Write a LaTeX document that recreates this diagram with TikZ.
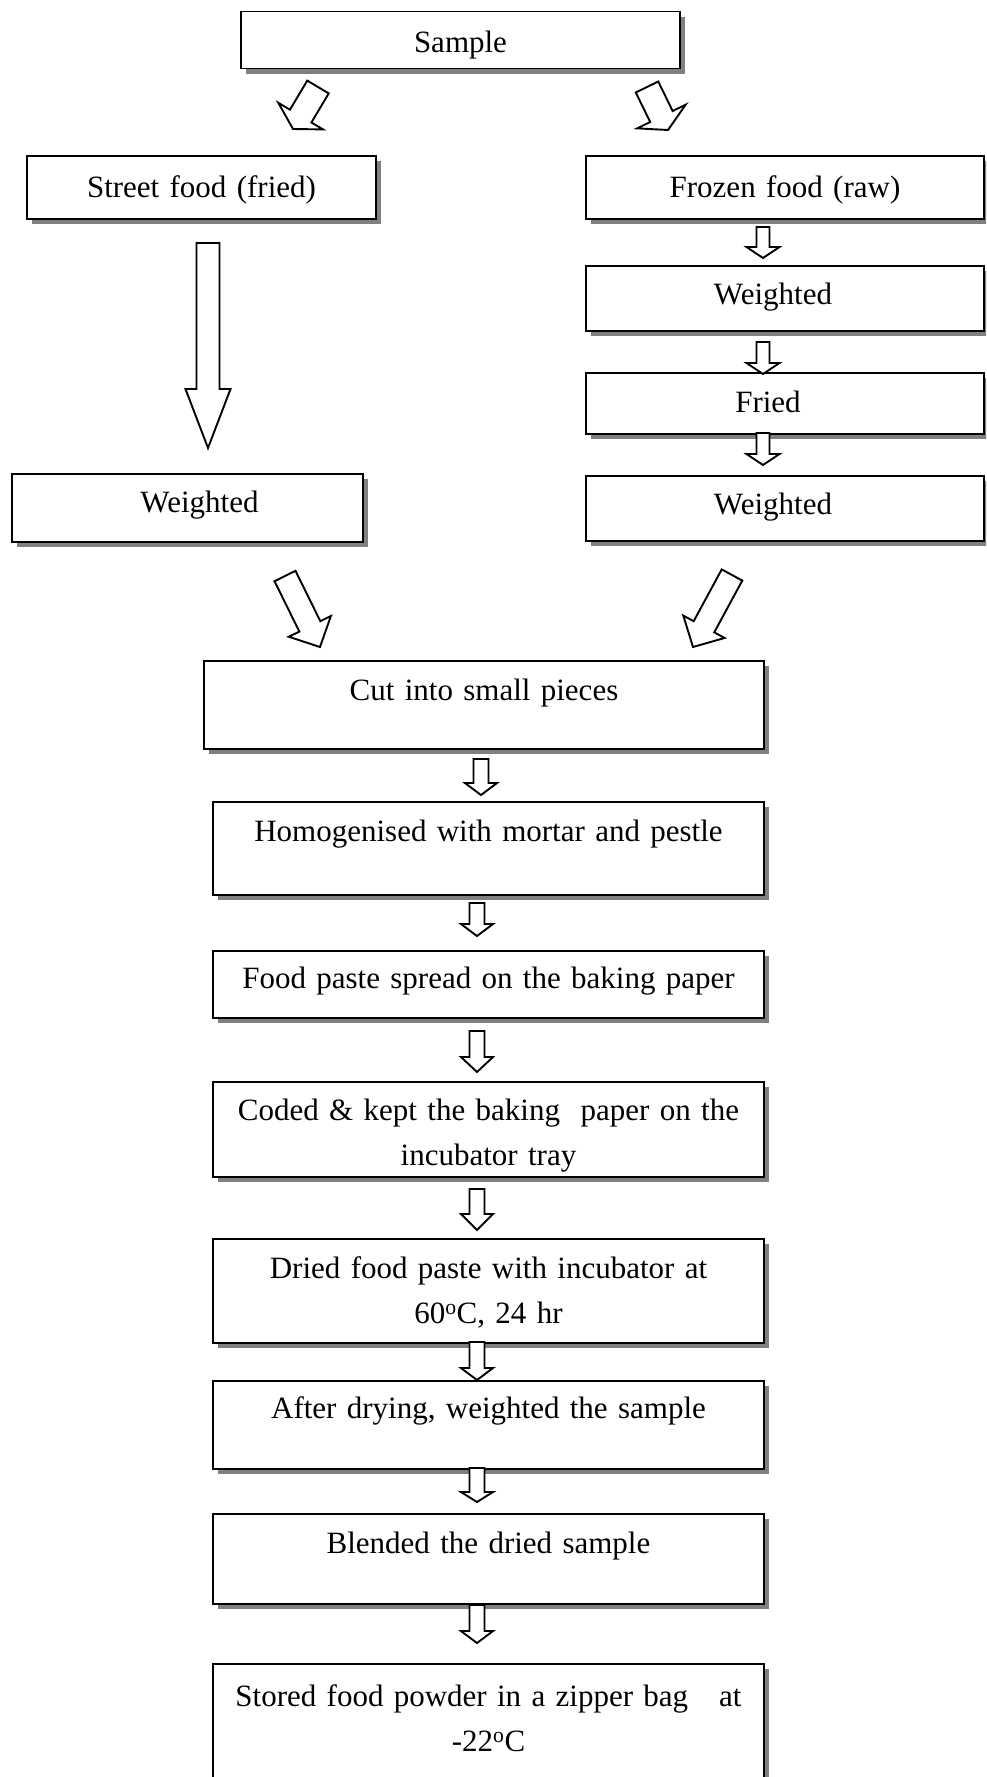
\documentclass[tikz,border=0pt]{standalone}
\usepackage{fontspec}
\setmainfont{Liberation Serif}
\usetikzlibrary{calc,shadows}
\definecolor{shadow-gray}{gray}{0.5}
\newcommand*\flowfont{\fontsize{31}{45}\selectfont}
% hollow block arrow: tail, tip, half shaft, half head, head length
\newcommand*\hollowarrow[5]{%
  \coordinate (hb) at ($(#2)!#5!(#1)$);
  \draw[outline] ($(#1)!#3!90:(#2)$) -- ($(hb)!#3!90:(#2)$) -- ($(hb)!#4!90:(#2)$) -- (#2)
    -- ($(hb)!#4!-90:(#2)$) -- ($(hb)!#3!-90:(#2)$) -- ($(#1)!#3!-90:(#2)$) -- cycle;}

\begin{document}
\begin{tikzpicture}[x=1pt,y=-1pt,
    box/.style={draw,line width=1.5pt,fill=white,inner sep=0pt,anchor=north,align=center,font=\flowfont,
      drop shadow={shadow xshift=5pt,shadow yshift=-5pt,fill=shadow-gray,opacity=1}},
    outline/.style={draw,line width=1.9pt,fill=white,line join=miter}]
\useasboundingbox (0,0) rectangle (986,1777);
\clip (0,0) rectangle (986,1777);

% top row
\node[box,text width=439pt,text height=41pt,text depth=16pt] (sample) at (460.5,11) {Sample};
\node[box,text width=349pt,text height=42pt,text depth=21pt] (street) at (201.5,155) {Street food (fried)};
\node[box,text width=398pt,text height=42pt,text depth=21pt] (frozen) at (785,155) {Frozen food (raw)};

% right branch
\node[box,text width=398pt,text height=39pt,text depth=26pt] (weighone) at (785,265) {\hspace*{-24pt}Weighted};
\node[box,text width=398pt,text height=40pt,text depth=21pt] (fried) at (785,372) {\hspace*{-34pt}Fried};
\node[box,text width=398pt,text height=39pt,text depth=26pt] (weightwo) at (785,475) {\hspace*{-24pt}Weighted};

% left branch
\node[box,text width=351pt,text height=39pt,text depth=29pt] (weighleft) at (187.5,473) {\hspace*{24pt}Weighted};

% main column
\node[box,text width=560pt,text height=40pt,text depth=48pt] (cut) at (484,660) {Cut into small pieces};
\node[box,text width=551pt,text height=40pt,text depth=53pt] (homog) at (488.5,801) {Homogenised with mortar and pestle};
\node[box,text width=551pt,text height=38pt,text depth=29pt] (paste) at (488.5,950) {Food paste spread on the baking paper};
\node[box,text width=551pt,text height=39pt,text depth=56pt] (coded) at (488.5,1081) {Coded \& kept the baking\ \ paper on the\\incubator tray};
\node[box,text width=551pt,text height=40pt,text depth=64pt] (dried) at (488.5,1238) {Dried food paste with incubator at\\60\textsuperscript{o}C, 24 hr};
\node[box,text width=551pt,text height=38pt,text depth=50pt] (after) at (488.5,1380) {After drying, weighted the sample};
\node[box,text width=551pt,text height=40pt,text depth=50pt] (blend) at (488.5,1513) {Blended the dried sample};
\node[box,text width=551pt,text height=43pt,text depth=97pt] (stored) at (488.5,1663) {Stored food powder in a zipper bag\ \ \ at\\-22\textsuperscript{o}C};

% arrow ends
\coordinate (sample-l) at (318,87);   \coordinate (street-in) at (293,129);
\coordinate (sample-r) at (647,87);   \coordinate (frozen-in) at (668,130);
\coordinate (street-out) at (208,243); \coordinate (weighleft-in) at (208,448);
\coordinate (frozen-out) at (763,227); \coordinate (weighone-in) at (763,258);
\coordinate (weighone-out) at (763,342); \coordinate (fried-in) at (763,374);
\coordinate (fried-out) at (763,433); \coordinate (weightwo-in) at (763,465);
\coordinate (weighleft-out) at (285,576); \coordinate (cut-inl) at (320,647);
\coordinate (weightwo-out) at (732,575); \coordinate (cut-inr) at (693,647);
\coordinate (cut-out) at (481,759); \coordinate (homog-in) at (481,795);
\coordinate (homog-out) at (477,903); \coordinate (paste-in) at (477,936);
\coordinate (paste-out) at (477,1031); \coordinate (coded-in) at (477,1072);
\coordinate (coded-out) at (477,1189); \coordinate (dried-in) at (477,1230);
\coordinate (dried-out) at (477,1342); \coordinate (after-in) at (477,1380);
\coordinate (after-out) at (477,1468); \coordinate (blend-in) at (477,1502);
\coordinate (blend-out) at (477,1605); \coordinate (stored-in) at (477,1643);

% arrows
\hollowarrow{sample-l}{street-in}{12.5pt}{26pt}{15pt}
\hollowarrow{sample-r}{frozen-in}{12.5pt}{27pt}{15pt}
\hollowarrow{street-out}{weighleft-in}{11.5pt}{22.5pt}{59pt}
\hollowarrow{frozen-out}{weighone-in}{6.5pt}{16.5pt}{11pt}
\hollowarrow{weighone-out}{fried-in}{6.5pt}{16.5pt}{11pt}
\hollowarrow{fried-out}{weightwo-in}{6.5pt}{16.5pt}{11pt}
\hollowarrow{weighleft-out}{cut-inl}{11.7pt}{23.5pt}{23pt}
\hollowarrow{weightwo-out}{cut-inr}{11.7pt}{23.5pt}{23pt}
\hollowarrow{cut-out}{homog-in}{7.5pt}{16pt}{12pt}
\hollowarrow{homog-out}{paste-in}{7.5pt}{16pt}{12pt}
\hollowarrow{paste-out}{coded-in}{7.5pt}{16pt}{15pt}
\hollowarrow{coded-out}{dried-in}{7.5pt}{16pt}{16pt}
\hollowarrow{dried-out}{after-in}{7.5pt}{16pt}{12pt}
\hollowarrow{after-out}{blend-in}{7.5pt}{16pt}{10pt}
\hollowarrow{blend-out}{stored-in}{7.5pt}{16pt}{12pt}
\end{tikzpicture}
\end{document}
